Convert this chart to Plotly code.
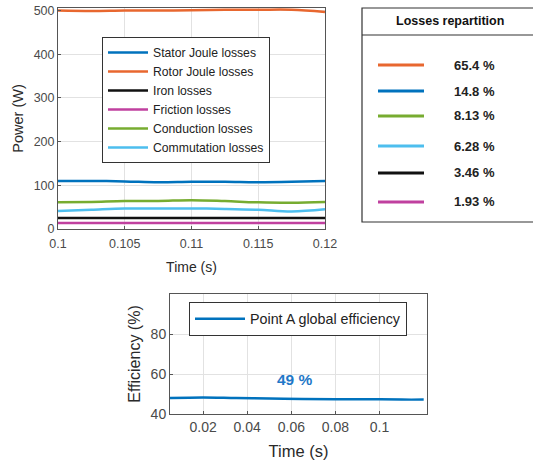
import plotly.graph_objects as go

# ---------------- data ----------------
time_top = [0.1, 0.1025, 0.105, 0.1075, 0.11, 0.1125, 0.115, 0.1175, 0.12]
stator_joule = [110, 110, 109, 107, 108, 108, 107, 108, 110]
rotor_joule = [500, 499, 500, 500, 501, 502, 502, 502, 497]
iron_losses = [25, 25, 25, 25, 25, 25, 25, 25, 25]
friction_losses = [14, 14, 14, 14, 14, 14, 14, 14, 14]
conduction_losses = [61, 62, 64, 64, 66, 64, 61, 60, 62]
commutation_losses = [41, 44, 47, 47, 47, 46, 44, 40, 45]

series_names = ["Stator Joule losses", "Rotor Joule losses", "Iron losses",
                "Friction losses", "Conduction losses", "Commutation losses"]
series_values = [stator_joule, rotor_joule, iron_losses, friction_losses,
                 conduction_losses, commutation_losses]
series_colors = ["#0072BD", "#E8672F", "#111111", "#C0409F", "#77AC30", "#4DBEEE"]

repartition_labels = ["65.4 %", "14.8 %", "8.13 %", "6.28 %", "3.46 %", "1.93 %"]
repartition_colors = ["#E8672F", "#0072BD", "#77AC30", "#4DBEEE", "#111111", "#C0409F"]

time_eff = [0.005, 0.02, 0.035, 0.05, 0.065, 0.08, 0.095, 0.11, 0.12]
efficiency = [48.0, 48.3, 48.0, 47.8, 47.5, 47.4, 47.4, 47.2, 47.2]
eff_label = "49 %"

top_xticks = [0.1, 0.105, 0.11, 0.115, 0.12]
top_xticklabels = ["0.1", "0.105", "0.11", "0.115", "0.12"]
top_yticks = [0, 100, 200, 300, 400, 500]
bot_xticks = [0.02, 0.04, 0.06, 0.08, 0.1]
bot_xticklabels = ["0.02", "0.04", "0.06", "0.08", "0.1"]
bot_yticks = [40, 60, 80]

W, H = 533, 462
FONT = "Liberation Sans, Arial, sans-serif"
TICK_COL = "#4a4a4a"
TITLE_COL = "#2a2a2a"

def px(x):
    return x / W

def py(y):
    return 1 - y / H

fig = go.Figure()

for name, vals, col in zip(series_names, series_values, series_colors):
    fig.add_trace(go.Scatter(x=time_top, y=vals, mode="lines", name=name,
                             line=dict(color=col, width=2.5, shape="spline"),
                             xaxis="x", yaxis="y", legend="legend"))

fig.add_trace(go.Scatter(x=time_eff, y=efficiency, mode="lines",
                         name="Point A global efficiency",
                         line=dict(color="#0072BD", width=2.5, shape="spline"),
                         xaxis="x2", yaxis="y2", legend="legend2"))

def ax(size, **kw):
    d = dict(showline=True, mirror=True, linecolor="#555555", linewidth=1,
             ticks="inside", ticklen=3, tickcolor="#555555", automargin=False,
             showgrid=True, gridcolor="#e2e2e2", gridwidth=1, zeroline=False,
             tickfont=dict(family=FONT, color=TICK_COL, size=size))
    d.update(kw)
    return d

fig.update_layout(
    width=W, height=H,
    margin=dict(l=0, r=0, t=0, b=0, autoexpand=False),
    paper_bgcolor="white", plot_bgcolor="white",
    font=dict(family=FONT, color=TITLE_COL),
    xaxis=ax(12.5, domain=[px(58), px(325)], range=[0.1, 0.12], anchor="y",
             tickvals=top_xticks, ticktext=top_xticklabels, ticklabelstandoff=3,
             title=dict(text="Time (s)", font=dict(size=14), standoff=12)),
    yaxis=ax(12.5, domain=[py(229), py(8)], range=[0, 506], anchor="x",
             tickvals=top_yticks,
             title=dict(text="Power (W)", font=dict(size=14.5), standoff=6)),
    xaxis2=ax(14, domain=[px(170), px(427)], range=[0.005, 0.1215], anchor="y2",
              tickvals=bot_xticks, ticktext=bot_xticklabels,
              title=dict(text="Time (s)", font=dict(size=16.5), standoff=11)),
    yaxis2=ax(14, domain=[py(414), py(294)], range=[40, 100], anchor="x2",
              tickvals=bot_yticks,
              title=dict(text="Efficiency (%)", font=dict(size=16), standoff=6)),
    legend=dict(x=px(102), y=py(37), xanchor="left", yanchor="top",
                bgcolor="white", bordercolor="#333333", borderwidth=1,
                font=dict(family=FONT, size=12.2, color="#222222"),
                tracegroupgap=0, itemwidth=40),
    legend2=dict(x=px(189), y=py(302), xanchor="left", yanchor="top",
                 bgcolor="white", bordercolor="#333333", borderwidth=1,
                 font=dict(family=FONT, size=14.3, color="#222222"),
                 itemwidth=50),
    showlegend=True,
)

# Right "Losses repartition" box
shapes = [
    dict(type="rect", xref="paper", yref="paper", x0=px(362), x1=px(540),
         y0=py(222), y1=py(8), line=dict(color="#333333", width=1.2)),
    dict(type="line", xref="paper", yref="paper", x0=px(362), x1=px(540),
         y0=py(35), y1=py(35), line=dict(color="#333333", width=1.2)),
]
row_y = [65, 91, 116, 146, 173, 202]
annotations = [
    dict(text="<b>Losses repartition</b>", xref="paper", yref="paper",
         x=px(450), y=py(21), showarrow=False, xanchor="center", yanchor="middle",
         font=dict(family=FONT, size=12.5, color="#111111")),
]
for yy, lab, col in zip(row_y, repartition_labels, repartition_colors):
    shapes.append(dict(type="line", xref="paper", yref="paper",
                       x0=px(378), x1=px(424), y0=py(yy), y1=py(yy),
                       line=dict(color=col, width=3)))
    annotations.append(dict(text="<b>" + lab + "</b>", xref="paper", yref="paper",
                            x=px(452), y=py(yy), showarrow=False, xanchor="left",
                            yanchor="middle",
                            font=dict(family=FONT, size=13, color="#222222")))

annotations.append(dict(text="<b>" + eff_label + "</b>", xref="x2", yref="y2",
                        x=0.0615, y=57.5, showarrow=False, xanchor="center",
                        yanchor="middle",
                        font=dict(family=FONT, size=15.5, color="#1f78c8")))

fig.update_layout(shapes=shapes, annotations=annotations)

fig.write_html("out.html",
               config={"displayModeBar": False},
               post_script="document.body.style.margin='0';document.body.style.overflow='hidden';")
